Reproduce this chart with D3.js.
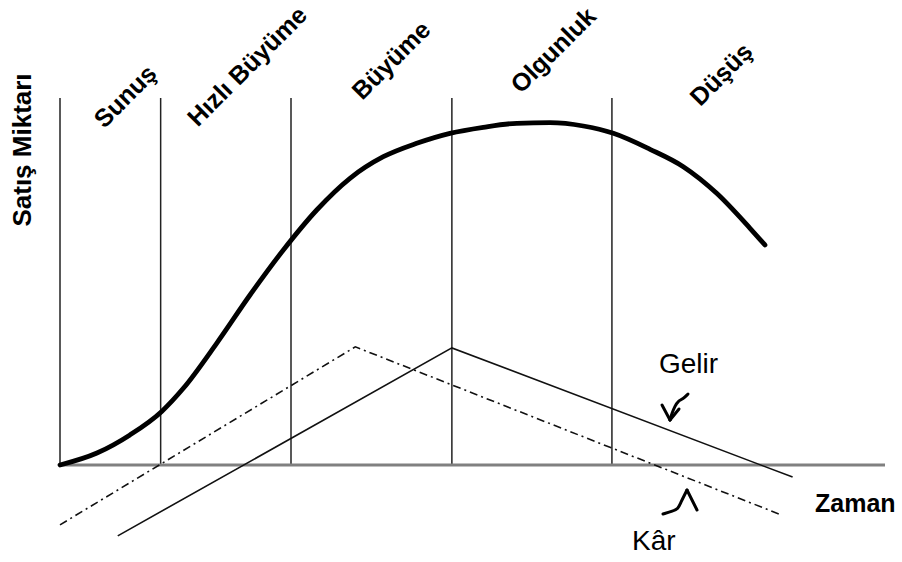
<!DOCTYPE html>
<html>
<head>
<meta charset="utf-8">
<script src="https://cdn.jsdelivr.net/npm/d3@7"></script>
<style>
  body { margin: 0; background: #fff; }
  svg { display: block; font-family: "Liberation Sans", Arial, sans-serif; }
</style>
</head>
<body>
<svg width="902" height="562"></svg>
<script>
// product life cycle phases and where each one starts (time units 0-100)
const phases = ["Sunuş", "Hızlı Büyüme", "Büyüme", "Olgunluk", "Düşüş"];
const phaseStart = [0, 12.2, 28, 47.5, 66.9];

// sales curve (time, amount)
const salesT = [0, 4.48, 8.48, 12.33, 14.95, 18.99, 23.03, 27.07, 31.12, 35.15, 39.19, 43.24, 47.27, 51.31, 55.36, 59.39, 63.43, 67.07, 71.52, 75.55, 79.6, 83.64, 85.45];
const salesV = [0, 3.27, 8.2, 14.6, 20.9, 33.16, 46.32, 58.58, 69.48, 78.12, 84.0, 87.66, 90.38, 92.02, 93.11, 93.27, 92.37, 90.38, 86.02, 81.28, 74.03, 64.5, 59.95];

// revenue (Gelir) and profit (Kâr) lines
const gelirT = [7.0, 47.5, 88.8];
const gelirV = [-19.3, 31.9, -3.3];
const karT = [0, 35.8, 87.2];
const karV = [-16.3, 32.2, -13.4];

const timeMax = 100;

const svg = d3.select("svg");

let x = d3.scaleLinear().domain([0, timeMax]).range([60, 885]);
let y = d3.scaleLinear().domain([0, 100]).range([465, 98]);

// vertical phase separators
svg.selectAll(".sep")
    .data(phaseStart)
    .enter()
    .append("line")
    .attr("class", "sep")
    .attr("x1", d => x(d)).attr("x2", d => x(d))
    .attr("y1", y(100)).attr("y2", y(0))
    .attr("stroke", "#222")
    .attr("stroke-width", 1.5);

// time axis (baseline)
svg.append("line")
    .attr("x1", x(0)).attr("x2", x(timeMax))
    .attr("y1", y(0)).attr("y2", y(0))
    .attr("stroke", "#808080")
    .attr("stroke-width", 3);

const line = d3.line().x(d => x(d[0])).y(d => y(d[1]));

// Gelir
svg.append("path")
    .datum(d3.zip(gelirT, gelirV))
    .attr("d", line)
    .attr("fill", "none")
    .attr("stroke", "#111")
    .attr("stroke-width", 1.6);

// Kâr (dash-dot)
svg.append("path")
    .datum(d3.zip(karT, karV))
    .attr("d", line)
    .attr("fill", "none")
    .attr("stroke", "#111")
    .attr("stroke-width", 1.6)
    .attr("stroke-dasharray", "8,4,2,4");

// sales curve
svg.append("path")
    .datum(d3.zip(salesT, salesV))
    .attr("d", line.curve(d3.curveMonotoneX))
    .attr("fill", "none")
    .attr("stroke", "#000")
    .attr("stroke-width", 4.8)
    .attr("stroke-linecap", "round");

// phase labels, rotated
const labelAt = [[125, 96], [247, 66], [391, 60], [553, 50], [721, 74]];
svg.selectAll(".phase")
    .data(phases)
    .enter()
    .append("text")
    .attr("class", "phase")
    .attr("transform", (d, i) => `translate(${labelAt[i][0]},${labelAt[i][1]}) rotate(-45)`)
    .attr("text-anchor", "middle")
    .attr("dy", "0.35em")
    .style("font-size", "25px")
    .style("font-weight", "bold")
    .text(d => d);

// y label
svg.append("text")
    .attr("transform", "translate(31,150) rotate(-90)")
    .attr("text-anchor", "middle")
    .style("font-size", "26px")
    .style("font-weight", "bold")
    .text("Satış Miktarı");

svg.append("text")
    .attr("x", 815).attr("y", 512)
    .style("font-size", "25px")
    .style("font-weight", "bold")
    .text("Zaman");

svg.append("text")
    .attr("x", 659).attr("y", 373)
    .style("font-size", "28px")
    .text("Gelir");

svg.append("text")
    .attr("x", 632).attr("y", 550)
    .style("font-size", "28px")
    .text("Kâr");

// hand drawn arrows, offsets from the tip
const arrow = d3.line().curve(d3.curveBasis);
function drawArrow(tip, tail, legs) {
    const g = svg.append("g")
        .attr("transform", `translate(${tip[0]},${tip[1]})`)
        .attr("fill", "none")
        .attr("stroke", "#000")
        .attr("stroke-width", 3)
        .attr("stroke-linecap", "round")
        .attr("stroke-linejoin", "round");
    g.append("path").attr("d", arrow(tail));
    legs.forEach(l => g.append("path").attr("d", `M${l[0]},${l[1]}L0,0`));
}

drawArrow([x(73.94), y(12.26)],
    [[18, -26], [13, -21], [8, -19], [5, -14], [2, -7], [0, 0]],
    [[-8, -15], [9, -11]]);

drawArrow([x(76.0), y(-6.81)],
    [[-24, 24], [-14, 21], [-9, 19], [-6, 12], [-3, 6], [0, 0]],
    [[10, 20]]);
</script>
</body>
</html>
